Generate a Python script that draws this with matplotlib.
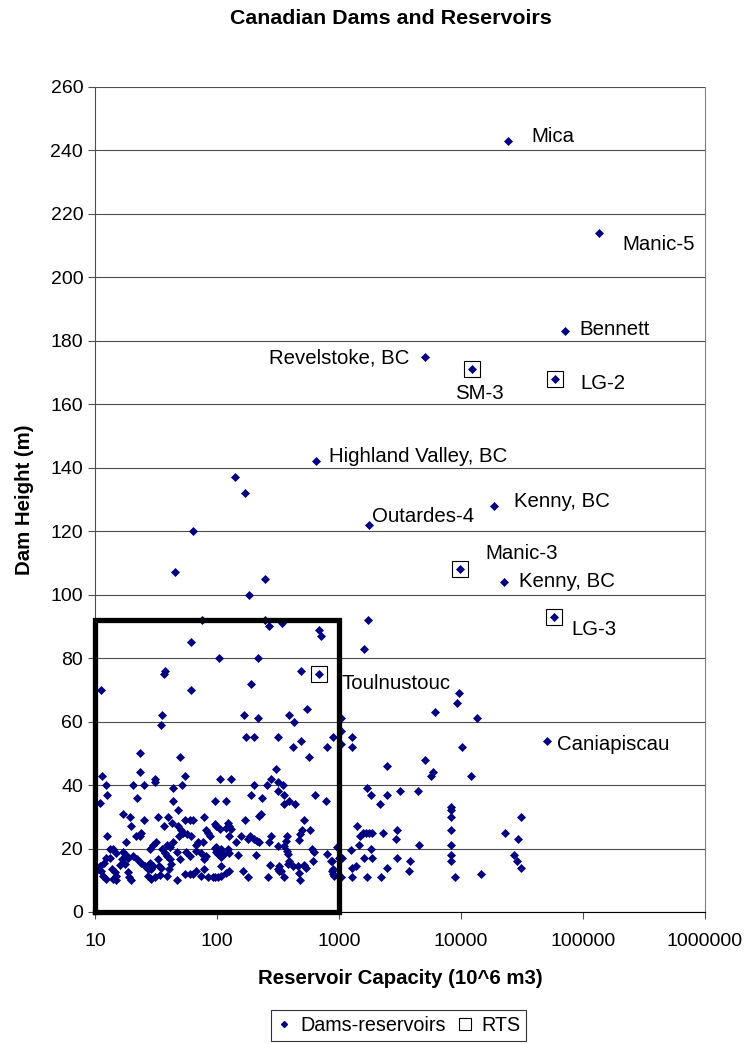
import matplotlib
matplotlib.use("Agg")
import matplotlib.pyplot as plt
from matplotlib.lines import Line2D
from matplotlib.ticker import NullLocator

plt.rcParams["font.family"] = ["Liberation Sans", "DejaVu Sans"]

# reservoir capacity (10^6 m3) and dam height (m), all dams
cap = [
    24400, 135000, 71000, 5040, 12200, 59000, 646, 1760, 18700, 9900, 22600, 58000, 687, 50800,
    141, 170, 63.8, 45.6, 249, 183,
    75.7, 249, 269, 338, 692, 708,
    60.8, 103, 215, 37.3, 36.6, 11.2, 60.8, 486, 191,
    166, 215, 391, 424, 551, 35.2, 34.8,
    173, 200, 316, 421, 486, 573, 798, 899, 1030, 1030, 1030, 1270, 1270,
    23.3, 50,
    11.4, 12.3, 12.5, 11,
    23.3, 20.3, 25.1, 31.1, 31.1,
    43.5, 55, 51.3, 22.3, 43.5, 47.9,
    105, 131, 96, 118, 200, 191, 232,
    257, 277, 302, 314, 316, 347, 356, 386, 356, 432, 633, 783,
    17, 19.3, 25.3, 19.8, 32.7, 39.7, 36.6, 43, 47.9, 51, 54.3, 59.7, 63.6, 78, 81.6, 98.5,
    24, 23.3, 21.5, 12.6, 17.9, 28.1, 29.9, 31.9, 35.2, 38.9, 40.9, 43.5, 48.8, 52.6, 57.1,
    60.8, 66.8, 69.8, 76.6, 84, 88,
    13.3, 14.1, 14.8, 12.3, 13.3, 11.9, 11, 10.6, 11.3, 11.7, 12.3,
    17, 17.9, 18.7, 16.5, 16, 17.5,
    13.7, 14.6, 15, 14.1, 14.8,
    18.7, 19, 19.9,
    20.5, 21.9, 24, 25.6, 27.2,
    28.1, 29.9, 29,
    27.2, 29, 30.9, 34,
    33.5, 35, 32.9,
    37.3, 38.9, 40.9, 42.3, 40.5,
    38.9, 47,
    47, 49.5, 56, 59.7,
    67.6, 74.3, 77.7, 81.6,
    54.3, 59.7, 63.6, 67.6, 74.3, 77.7,
    84, 92.5, 101.6,
    95.5, 98.5,
    512, 580, 493, 478, 471, 170, 222, 230,
    95.5, 105, 122, 126, 119, 131,
    126, 143, 157,
    179, 188, 202, 212, 222,
    268, 277,
    314, 356, 374, 367, 374, 384,
    605, 625, 616,
    793, 855, 899, 968, 1000,
    98.5, 108, 102, 122, 115, 108, 108, 126,
    150, 209,
    273, 324, 334, 314,
    391, 384, 416, 457, 518, 535,
    471, 478,
    95.5, 108, 119, 126,
    163, 179,
    260, 324, 351,
    883, 912, 1019,
    1600, 1730,
    6150, 9660, 9350, 13460, 10200,
    2480, 5040, 5890, 5700, 12000,
    1700, 1815, 2480, 3190, 4410, 2150,
    8320, 8320, 8320, 8320, 8320, 8320, 8320,
    8950, 14500,
    31000, 22950, 29100, 27300, 28600, 31000,
    1410, 1500, 1570, 1650, 1760, 1870, 2290, 2990, 2940, 4560,
    1245, 1455, 1815, 1050, 1600, 1870, 2990, 3800, 3730,
    1285, 1370,
    1270, 1700, 2190, 2480, 1030,
    870, 897,
]
height = [
    243, 214, 183, 175, 171, 168, 142, 122, 128, 108, 104, 93, 75, 54,
    137, 132, 120, 107, 105, 100,
    92, 92, 90, 91, 89, 87,
    85, 80, 80, 76, 75, 70, 70, 76, 72,
    62, 61, 62, 60, 64, 62, 59,
    55, 55, 55, 52, 54, 49, 52, 55, 61, 57, 53, 55, 52,
    50, 49,
    43, 40, 37, 34.5,
    44, 40, 40, 42, 41,
    39, 43, 40, 36, 35, 32,
    42, 42, 35, 35, 40, 37, 36,
    40, 42, 45, 41, 38, 40, 37, 35, 34, 34, 37, 35,
    31, 30, 29, 27, 30, 30, 27, 28, 27, 26, 29, 29, 29, 30, 26, 27,
    25, 24, 24, 24, 22, 20, 21, 22, 20, 21, 20.6, 22, 24, 25, 24.5,
    24, 21, 22, 22, 25, 24,
    20, 20, 18.7, 17, 17, 15.4, 14.6, 13.6, 13, 11.4, 10.4,
    19, 18, 17, 16.6, 14.8, 15,
    13.6, 12.5, 11.4, 10.4, 10,
    12.5, 11, 10.1,
    17.7, 16.6, 15.6, 14.6, 13.6,
    15.6, 14.6, 13.6,
    11.4, 10.4, 10.9, 11.6,
    14.6, 14, 16.6,
    18.7, 17.5, 16.6, 15, 13.4,
    11.2, 10.1,
    19, 16.6, 19, 17.5,
    19.3, 18.5, 16.6, 17.5,
    11.9, 11.9, 11.9, 13, 11.4, 13.6,
    10.9, 10.9, 10.9,
    20.3, 19,
    29, 26, 26, 24.5, 22.7, 29, 30.3, 31,
    27.7, 26.1, 28.2, 27.1, 26.6, 26.1,
    24, 22, 24,
    23, 24, 23, 22.4, 22,
    22, 24,
    20.8, 20.8, 24, 22.4, 19.3, 18.2,
    20, 19, 16,
    18.2, 16, 13.7, 20.6, 17,
    20.6, 20, 18.2, 20, 18.2, 17.2, 14.5, 18.7,
    18, 18,
    14.8, 14.5, 13, 13.7,
    16, 15, 14.5, 14.5, 14.8, 14,
    12.2, 10,
    11, 11.4, 12.2, 13,
    13, 11,
    11, 13, 11,
    13, 11.4, 11,
    83, 92,
    63, 69, 66, 61, 52,
    46, 48, 44, 43, 43,
    39, 37, 37, 38, 38, 34,
    33, 32, 30, 26, 21, 18, 16,
    11, 12,
    30, 25, 23, 18, 16, 14,
    27, 24, 25, 25, 25, 25, 25, 26, 23, 21,
    19.5, 21, 20, 17, 17, 17, 17, 16, 13,
    14, 14.4,
    11, 11, 11, 14, 11,
    16, 12,
]

# RTS dams
rts_cap = [12200, 59000, 9900, 58000, 687]
rts_height = [171, 168, 108, 93, 75]

# labelled dams
lbl_names = ["Mica", "Manic-5", "Bennett", "Revelstoke, BC", "SM-3", "LG-2",
             "Highland Valley, BC", "Outardes-4", "Kenny, BC", "Manic-3",
             "Kenny, BC", "LG-3", "Toulnustouc", "Caniapiscau"]
lbl_cap = cap[:14]
lbl_height = height[:14]
# label offsets in points and alignment
lbl_off = [(16.6, 2.9, "left"), (16.6, -8.6, "left"), (10.8, 1.4, "left"),
           (-10.8, -0.7, "right"), (5.8, -17.3, "center"), (18, -3.6, "left"),
           (9.4, 3.6, "left"), (2.2, 5.8, "left"), (14.4, 2.9, "left"),
           (18, 11.5, "left"), (10.8, 0.7, "left"), (12.2, -9.4, "left"),
           (15.8, -6.5, "left"), (7.2, -2.9, "left")]

# highlighted box (capacity range, height range)
box_cap = [10, 10, 1000, 1000, 10]
box_height = [0, 92, 92, 0, 0]

navy = "#000080"
fs = 14.7
tfs = 14

fig = plt.figure(figsize=(7.45, 10.44), dpi=100)
ax = fig.add_axes([95 / 745, 132 / 1044, 610 / 745, 825 / 1044])

ax.plot(cap, height, linestyle="none", marker="D", ms=4, mew=0.5,
        color=navy, mec=navy, zorder=3)
ax.plot(rts_cap, rts_height, linestyle="none", marker="s", ms=11.5,
        mfc="none", mec="black", mew=0.8, zorder=4)
ax.plot(box_cap, box_height, color="black", lw=3.8, clip_on=False,
        solid_joinstyle="miter", zorder=5)

for name, x, y, (dx, dy, ha) in zip(lbl_names, lbl_cap, lbl_height, lbl_off):
    ax.annotate(name, (x, y), xytext=(dx, dy), textcoords="offset points",
                ha=ha, va="center", fontsize=fs)

ax.set_xscale("log")
ax.set_xlim(10, 1e6)
ax.set_ylim(0, 260)
ax.set_xticks([10, 100, 1000, 10000, 100000, 1000000])
ax.set_xticklabels(["10", "100", "1000", "10000", "100000", "1000000"])
ax.xaxis.set_minor_locator(NullLocator())
ax.set_yticks(range(0, 261, 20))
ax.tick_params(labelsize=tfs, length=5, width=0.8, direction="out", color="0.3")
ax.tick_params(axis="x", pad=10)
ax.grid(axis="y", color="0.3", lw=0.8)
ax.set_axisbelow(True)
ax.spines["top"].set_visible(False)
ax.spines["right"].set_color("0.5")
ax.spines["left"].set_color("0.3")
ax.spines["bottom"].set_color("black")

ax.set_xlabel("Reservoir Capacity (10^6 m3)", fontsize=fs, fontweight="bold", labelpad=14)
ax.set_ylabel("Dam Height (m)", fontsize=fs, fontweight="bold", labelpad=12)
fig.text(391 / 745, 1 - 18 / 1044, "Canadian Dams and Reservoirs", ha="center",
         va="center", fontsize=15.4, fontweight="bold")

handles = [
    Line2D([], [], linestyle="none", marker="D", ms=3, color=navy),
    Line2D([], [], linestyle="none", marker="s", ms=8, mfc="none", mec="black", mew=0.8),
]
leg = fig.legend(handles, ["Dams-reservoirs", "RTS"], loc="lower center",
                 bbox_to_anchor=(398.5 / 745, 0.0), ncol=2, fontsize=14.2,
                 frameon=True, fancybox=False, edgecolor="black",
                 handlelength=0.8, handletextpad=0.4, columnspacing=0.6,
                 borderpad=0.3, borderaxespad=0.15)
leg.get_frame().set_linewidth(0.8)

fig.savefig("out.png", dpi=100)
